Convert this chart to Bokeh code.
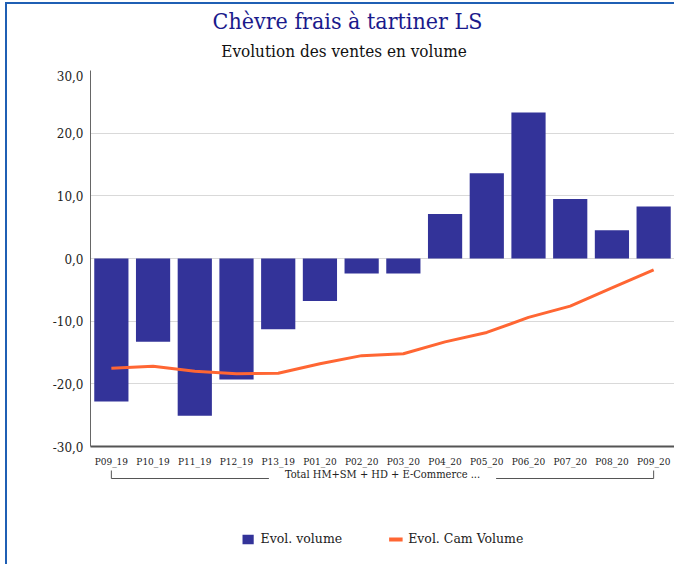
from bokeh.plotting import figure
from bokeh.layouts import column
from bokeh.models import (ColumnDataSource, FactorRange, Range1d, CustomJSTickFormatter,
                          Legend, LegendItem, Label, FixedTicker)
from bokeh.embed import file_html
from bokeh.resources import INLINE

# ---- data ----
periods = ["P09_19", "P10_19", "P11_19", "P12_19", "P13_19", "P01_20", "P02_20",
           "P03_20", "P04_20", "P05_20", "P06_20", "P07_20", "P08_20", "P09_20"]
group_label = "Total HM+SM + HD + E-Commerce ..."
evol_volume = [-22.8, -13.3, -25.1, -19.3, -11.3, -6.8, -2.4, -2.4, 7.1, 13.6, 23.3, 9.5, 4.5, 8.3]
evol_cam_volume = [-17.5, -17.2, -18.0, -18.4, -18.3, -16.8, -15.5, -15.2, -13.3, -11.8, -9.4, -7.6, -4.7, -1.8]
y_ticks = [-30, -20, -10, 0, 10, 20, 30]
series_names = ["Evol. volume", "Evol. Cam Volume"]
main_title = "Chèvre frais à tartiner LS"
sub_title = "Evolution des ventes en volume"

SERIF_C = "'DejaVu Serif Condensed', 'Liberation Serif', serif"
SERIF = "'DejaVu Serif', serif"
BAR = "#333399"
LINE = "#ff6633"
BORDER = "#1f5fb4"
W = 667
LEFT = 83
HEAD_H = 66


def bare(fig):
    fig.grid.grid_line_color = None
    fig.outline_line_color = None


# ---- header: titles (x in canvas pixels) ----
h = figure(x_range=Range1d(LEFT, W), y_range=Range1d(HEAD_H, 0), width=W, height=HEAD_H,
           output_backend="svg", toolbar_location=None, title=None,
           x_axis_location=None, y_axis_location=None,
           min_border_left=LEFT, min_border_right=0, min_border_top=0, min_border_bottom=0)
bare(h)
h.add_layout(Label(x=340, y=16, text=main_title, text_align="center", text_baseline="alphabetic",
                   text_font=SERIF_C, text_font_size="23px", text_color="#1a1a8c"))
h.add_layout(Label(x=336.5, y=46, text=sub_title, text_align="center", text_baseline="alphabetic",
                   text_font=SERIF_C, text_font_size="17px", text_color="#111111"))

# ---- main chart ----
src = ColumnDataSource(dict(period=periods, vol=evol_volume, cam=evol_cam_volume))
xr = FactorRange(*periods)

p = figure(x_range=xr, y_range=Range1d(y_ticks[0], y_ticks[-1]), title=None,
           width=W, height=399, output_backend="svg", toolbar_location=None,
           min_border_left=LEFT, min_border_right=0, min_border_top=0, min_border_bottom=22)

bars = p.vbar(x="period", top="vol", width=0.82, source=src, fill_color=BAR, line_color=None)
line = p.line(x="period", y="cam", source=src, line_color=LINE, line_width=3)

p.outline_line_color = None
p.xgrid.grid_line_color = None
p.ygrid.grid_line_color = "#d9d9d9"

p.yaxis.ticker = FixedTicker(ticks=y_ticks)
p.yaxis.formatter = CustomJSTickFormatter(code="return tick.toFixed(1).replace('.', ',');")
p.yaxis.major_label_text_font = SERIF
p.yaxis.major_label_text_font_size = "12px"
p.yaxis.major_label_text_color = "#222222"
p.yaxis.major_tick_line_color = None
p.yaxis.major_tick_out = 0
p.yaxis.minor_tick_line_color = None
p.yaxis.axis_line_color = "#666666"
p.yaxis.major_label_standoff = 7

p.xaxis.major_label_text_font = SERIF_C
p.xaxis.major_label_text_font_size = "10px"
p.xaxis.major_label_text_color = "#222222"
p.xaxis.major_tick_line_color = None
p.xaxis.major_tick_out = 0
p.xaxis.axis_line_color = "#555555"
p.xaxis.axis_line_width = 2
p.xaxis.major_label_standoff = 9

# ---- footer: group bracket + legend (shares the category axis) ----
n = len(periods)
f = figure(x_range=xr, y_range=Range1d(95, 0), width=W, height=95, title=None,
           output_backend="svg", toolbar_location=None,
           min_border_left=LEFT, min_border_right=0, min_border_top=0, min_border_bottom=0)
f.axis.visible = False
bare(f)

f.line(x=[0.5, 0.5, n - 0.5, n - 0.5], y=[1, 9, 9, 1], line_color="#555555", line_width=1)
f.add_layout(Label(x=n / 2, y=5, text=group_label, text_align="center", text_baseline="middle",
                   text_font=SERIF_C, text_font_size="11px", text_color="#222222",
                   background_fill_color="white",
                   padding=dict(left=16, right=16, top=0, bottom=0)))

# legend swatches (no visible data, only styles for the legend)
nan = float("nan")
lg_bar = f.vbar(x=[periods[0]], top=[nan], bottom=[nan], width=0.82, fill_color=BAR, line_color=None)
lg_line = f.line(x=[periods[0]], y=[nan], line_color=LINE, line_width=4)
legend = Legend(items=[LegendItem(label=series_names[0], renderers=[lg_bar]),
                       LegendItem(label=series_names[1], renderers=[lg_line])],
                orientation="horizontal", location="bottom_center", spacing=46,
                padding=0, margin=18, border_line_color=None, background_fill_alpha=0,
                glyph_width=14, glyph_height=12, label_standoff=6,
                label_text_font=SERIF, label_text_font_size="12.5px", label_text_color="#222222")
f.add_layout(legend, "center")

layout = column(h, p, f, spacing=0,
                styles={"border-left": f"2px solid {BORDER}", "border-top": f"2px solid {BORDER}",
                        "margin-left": "5px", "margin-top": "2px"})

open("out.html", "w").write(file_html(layout, INLINE))
